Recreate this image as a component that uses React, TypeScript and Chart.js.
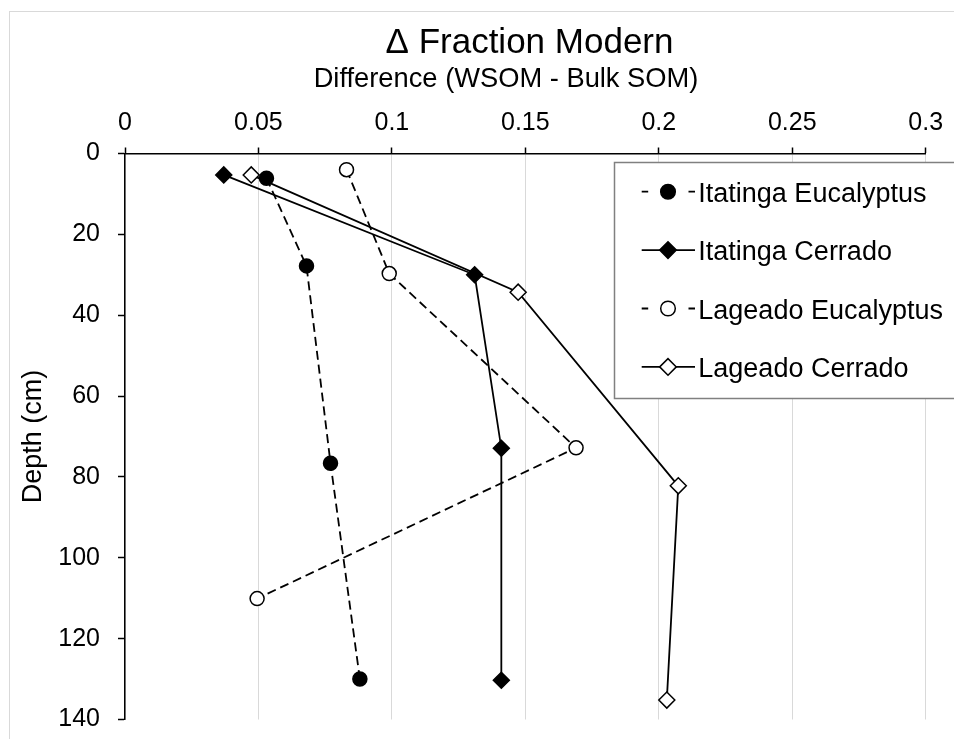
import React, { useEffect, useRef } from 'react';
import { Chart, registerables } from 'chart.js';

Chart.register(...registerables);

const FONT = '"Liberation Sans", Arial, Helvetica, sans-serif';

// Series names (legend order)
const seriesNames = ['Itatinga Eucalyptus', 'Itatinga Cerrado', 'Lageado Eucalyptus', 'Lageado Cerrado'];

// Δ Fraction Modern (WSOM - bulk SOM) against sampling depth (cm)
const itatingaEucalyptusFm = [0.053, 0.068, 0.077, 0.088];
const itatingaEucalyptusDepth = [6.1, 27.8, 76.6, 130.0];

const itatingaCerradoFm = [0.037, 0.131, 0.141, 0.141];
const itatingaCerradoDepth = [5.3, 30.0, 72.9, 130.3];

const lageadoEucalyptusFm = [0.083, 0.099, 0.169, 0.0495];
const lageadoEucalyptusDepth = [4.0, 29.7, 72.8, 110.1];

const lageadoCerradoFm = [0.0473, 0.1473, 0.2073, 0.203];
const lageadoCerradoDepth = [5.3, 34.3, 82.2, 135.2];

// Axis ticks
const fractionTicks = [0, 0.05, 0.1, 0.15, 0.2, 0.25, 0.3];
const fractionTickLabels = ['0', '0.05', '0.1', '0.15', '0.2', '0.25', '0.3'];
const depthTicks = [0, 20, 40, 60, 80, 100, 120, 140];
const depthTickLabels = ['0', '20', '40', '60', '80', '100', '120', '140'];

const titleText = 'Δ Fraction Modern';
const subtitleText = 'Difference (WSOM - Bulk SOM)';
const depthAxisTitle = 'Depth (cm)';

const toPoints = (xs: number[], ys: number[]) => xs.map((x, i) => ({ x, y: ys[i] }));

const DASH = [9, 5];
const LINE_WIDTH = 1.8;

function markerPath(ctx: CanvasRenderingContext2D, style: string, x: number, y: number, r: number) {
  ctx.beginPath();
  if (style === 'circle') {
    ctx.arc(x, y, r, 0, Math.PI * 2);
  } else {
    ctx.moveTo(x - r, y);
    ctx.lineTo(x, y - r);
    ctx.lineTo(x + r, y);
    ctx.lineTo(x, y + r);
    ctx.closePath();
  }
}

// Frame, headings and the boxed legend with line + marker samples
const decorations = {
  id: 'decorations',
  beforeDraw(chart: any) {
    const ctx = chart.ctx as CanvasRenderingContext2D;
    ctx.save();
    ctx.strokeStyle = '#d9d9d9';
    ctx.lineWidth = 1;
    ctx.strokeRect(9.5, 11.5, 2000, 2000);
    ctx.restore();
  },
  afterDraw(chart: any) {
    const ctx = chart.ctx as CanvasRenderingContext2D;
    ctx.save();
    ctx.fillStyle = '#000';
    ctx.textAlign = 'center';
    ctx.textBaseline = 'alphabetic';
    ctx.font = `35px ${FONT}`;
    ctx.fillText(titleText, 529.5, 53);
    ctx.font = `27.3px ${FONT}`;
    ctx.fillText(subtitleText, 506, 87);

    // legend box
    const boxL = 614.5;
    const boxT = 162.5;
    const boxB = 398.5;
    ctx.fillStyle = '#fff';
    ctx.fillRect(boxL, boxT, 1000, boxB - boxT);
    ctx.strokeStyle = '#808080';
    ctx.lineWidth = 1.5;
    ctx.strokeRect(boxL, boxT, 1000, boxB - boxT);

    const rowGap = 58.4;
    const lineL = 641.7;
    const lineR = 695;
    const markX = 668;
    chart.data.datasets.forEach((ds: any, i: number) => {
      const cy = 191.7 + i * rowGap;
      ctx.strokeStyle = '#000';
      ctx.lineWidth = ds.borderWidth;
      ctx.setLineDash([]);
      ctx.beginPath();
      if (ds.borderDash && ds.borderDash.length) {
        ctx.moveTo(lineL, cy);
        ctx.lineTo(lineL + 6.5, cy);
        ctx.moveTo(lineR - 6.5, cy);
        ctx.lineTo(lineR, cy);
      } else {
        ctx.moveTo(lineL, cy);
        ctx.lineTo(lineR, cy);
      }
      ctx.stroke();
      const r = ds.pointStyle === 'circle' ? 7.3 : 8.3;
      markerPath(ctx, ds.pointStyle, markX, cy, r);
      ctx.fillStyle = ds.pointBackgroundColor;
      ctx.fill();
      ctx.lineWidth = ds.pointBorderWidth;
      ctx.strokeStyle = ds.pointBorderColor;
      ctx.stroke();

      ctx.fillStyle = '#000';
      ctx.font = `27px ${FONT}`;
      ctx.textAlign = 'left';
      ctx.textBaseline = 'alphabetic';
      ctx.fillText(ds.label, 698.3, cy + 10);
    });
    ctx.restore();
  },
};

function makeSeries(label: string, xs: number[], ys: number[], dashed: boolean, style: string, filled: boolean) {
  const radius = style === 'circle' ? 7 : 8;
  return {
    label,
    data: toPoints(xs, ys),
    showLine: true,
    borderColor: '#000',
    borderWidth: LINE_WIDTH,
    borderDash: dashed ? DASH : [],
    pointStyle: style === 'circle' ? 'circle' : 'rectRot',
    pointRadius: radius,
    pointHoverRadius: radius,
    pointBackgroundColor: filled ? '#000' : '#fff',
    pointBorderColor: '#000',
    pointBorderWidth: 1.5,
    fill: false,
    tension: 0,
    clip: false,
  };
}

export default function App() {
  const canvasRef = useRef<HTMLCanvasElement | null>(null);

  useEffect(() => {
    if (!canvasRef.current) return;
    const tickFont = { family: FONT, size: 25 };
    const chart = new Chart(canvasRef.current, {
      type: 'scatter',
      data: {
        datasets: [
          makeSeries(seriesNames[0], itatingaEucalyptusFm, itatingaEucalyptusDepth, true, 'circle', true),
          makeSeries(seriesNames[1], itatingaCerradoFm, itatingaCerradoDepth, false, 'diamond', true),
          makeSeries(seriesNames[2], lageadoEucalyptusFm, lageadoEucalyptusDepth, true, 'circle', false),
          makeSeries(seriesNames[3], lageadoCerradoFm, lageadoCerradoDepth, false, 'diamond', false),
        ] as any,
      },
      options: {
        responsive: false,
        animation: false,
        layout: { padding: { left: 0, top: 0, right: 28.3, bottom: 19.5 } },
        plugins: {
          legend: { display: false },
          tooltip: { enabled: false },
          title: { display: false },
        },
        scales: {
          x: {
            type: 'linear',
            position: 'top',
            min: 0,
            max: 0.3,
            afterBuildTicks: (s: any) => {
              s.ticks = fractionTicks.map((v) => ({ value: v }));
            },
            afterFit: (s: any) => {
              s.height = 153.5;
              s.paddingLeft = 0;
              s.paddingRight = 0;
            },
            ticks: {
              callback: (_v: any, i: number) => fractionTickLabels[i],
              font: tickFont,
              color: '#000',
              padding: 9,
              maxRotation: 0,
              autoSkip: false,
            },
            grid: {
              color: '#d9d9d9',
              lineWidth: 1,
              tickColor: '#000',
              tickLength: 6,
              tickWidth: 1.5,
            },
            border: { color: '#000', width: 1.5 },
          },
          y: {
            type: 'linear',
            reverse: true,
            min: 0,
            max: 140,
            afterBuildTicks: (s: any) => {
              s.ticks = depthTicks.map((v) => ({ value: v }));
            },
            afterFit: (s: any) => {
              s.width = 125;
              s.paddingTop = 0;
              s.paddingBottom = 0;
            },
            ticks: {
              callback: (_v: any, i: number) => depthTickLabels[i],
              font: tickFont,
              color: '#000',
              padding: 18,
              autoSkip: false,
            },
            grid: {
              drawOnChartArea: false,
              tickColor: '#000',
              tickLength: 7,
              tickWidth: 1.5,
            },
            border: { color: '#000', width: 1.5 },
            title: {
              display: true,
              text: depthAxisTitle,
              color: '#000',
              font: { family: FONT, size: 27 },
              padding: { top: 17, bottom: 0 },
            },
          },
        },
      } as any,
      plugins: [decorations],
    });
    return () => chart.destroy();
  }, []);

  return (
    <div style={{ position: 'absolute', left: 0, top: 0, width: 954, height: 739, background: '#fff' }}>
      <canvas ref={canvasRef} width={954} height={739} style={{ display: 'block' }} />
    </div>
  );
}
